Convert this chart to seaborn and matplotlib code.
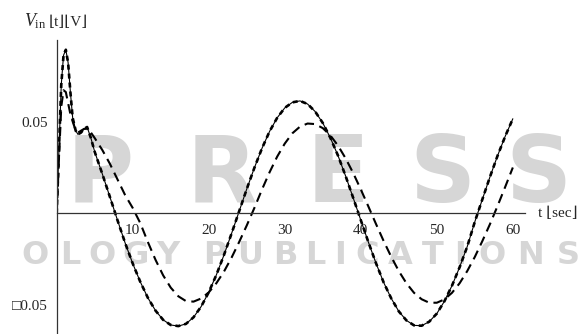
import pandas as pd
import seaborn as sns
import matplotlib.pyplot as plt
from matplotlib.ticker import MultipleLocator

# time grid (sec): dense at the start transient, then one point per second
t = [0, 0.3, 0.6, 0.9, 1.2, 1.5, 1.8, 2.1, 2.5, 2.8, 3.2, 3.6, 4.0, 4.5] + list(range(5, 61))

# solid curve (also drawn again with short dashes on top)
v_sim = [0, 0.035, 0.070, 0.086, 0.089, 0.082, 0.066, 0.052, 0.045, 0.043, 0.044, 0.046, 0.047, 0.041,
         0.0335, 0.0215, 0.0090, -0.0037, -0.0160, -0.0272, -0.0372, -0.0459, -0.0528, -0.0578,
         -0.0606, -0.0612, -0.0600, -0.0564, -0.0506, -0.0428, -0.0334, -0.0226, -0.0109, 0.0012,
         0.0133, 0.0248, 0.0354, 0.0446, 0.0520, 0.0574, 0.0604, 0.0612, 0.0595, 0.0554, 0.0492,
         0.0411, 0.0315, 0.0204, 0.0085, -0.0036, -0.0156, -0.0270, -0.0374, -0.0461, -0.0532,
         -0.0581, -0.0608, -0.0610, -0.0588, -0.0544, -0.0477, -0.0392, -0.0292, -0.0180, -0.0045,
         0.0078, 0.0200, 0.0315, 0.0420, 0.0515]

# long-dashed (lagging) curve
v_delay = [0, 0.030, 0.058, 0.067, 0.066, 0.060, 0.054, 0.050, 0.045, 0.044, 0.045, 0.046, 0.046, 0.044,
           0.041, 0.0345, 0.027, 0.0185, 0.0100, 0.0030, -0.0053, -0.0156, -0.0252, -0.0336,
           -0.0403, -0.0450, -0.0476, -0.0479, -0.0462, -0.0429, -0.0379, -0.0316, -0.0240, -0.0155,
           -0.0065, 0.0030, 0.0130, 0.0224, 0.0309, 0.0380, 0.0436, 0.0472, 0.0489, 0.0486, 0.0464,
           0.0424, 0.0369, 0.0300, 0.0220, 0.0131, 0.0038, -0.0057, -0.0149, -0.0235, -0.0313,
           -0.0379, -0.0431, -0.0466, -0.0485, -0.0485, -0.0467, -0.0431, -0.0379, -0.0313, -0.0236,
           -0.0149, -0.0057, 0.0042, 0.0145, 0.0250]

x_ticks = [10, 20, 30, 40, 50, 60]
x_labels = ["10", "20", "30", "40", "50", "60"]
y_ticks = [-0.05, 0.05]
y_labels = ["\u25a10.05", "0.05"]

sns.set_style("white")
plt.rcParams['font.family'] = ['Liberation Serif', 'DejaVu Serif']
plt.rcParams['mathtext.fontset'] = 'custom'
plt.rcParams['mathtext.rm'] = 'Liberation Serif'
plt.rcParams['mathtext.it'] = 'Liberation Serif:italic'

W, H = 585, 334
fig = plt.figure(figsize=(W / 100, H / 100), dpi=100)

# faint publisher watermark behind the plot
wm = '#d6d6d6'
for ch, xc in zip("PRESS", [100, 222, 338, 442, 538]):
    fig.text(xc / W, 1 - 202 / H, ch, color=wm, fontsize=66, fontweight='bold',
             family='DejaVu Sans', ha='center', va='baseline', zorder=-5)
for ch, xc in zip("OLOGYPUBLICATIONS",
                  [35, 70, 102, 136, 168, 215, 250, 285, 315, 340, 367, 400, 433, 460, 492, 530, 568]):
    fig.text(xc / W, 1 - 264 / H, ch, color=wm, fontsize=23, fontweight='bold',
             family='DejaVu Sans', ha='center', va='baseline', zorder=-5)

ax = fig.add_axes([56.7 / W, 0, (525 - 56.7) / W, 1 - 40 / H])
ax.set_facecolor('none')

df = pd.DataFrame({'t': t, 'sim': v_sim, 'delay': v_delay})
sns.lineplot(data=df, x='t', y='sim', color='black', linewidth=0.8, ax=ax)
sns.lineplot(data=df, x='t', y='sim', color='black', linewidth=1.9, ax=ax)
sns.lineplot(data=df, x='t', y='delay', color='black', linewidth=1.5, ax=ax)
lines = ax.get_lines()
lines[1].set_linestyle((0, (1.9, 1.5)))
lines[2].set_linestyle((0, (4.6, 2.8)))

ax.set_xlim(0, 61.6)
ax.set_ylim(-0.0655, 0.0943)
ax.set_xlabel('')
ax.set_ylabel('')

for side in ['top', 'right']:
    ax.spines[side].set_visible(False)
for side in ['left', 'bottom']:
    ax.spines[side].set_position(('data', 0))
    ax.spines[side].set_color('#333333')
    ax.spines[side].set_linewidth(0.9)

ax.set_xticks(x_ticks)
ax.set_xticklabels(x_labels)
ax.set_yticks(y_ticks)
ax.set_yticklabels(y_labels)
ax.xaxis.set_minor_locator(MultipleLocator(2))
ax.yaxis.set_minor_locator(MultipleLocator(0.01))
ax.tick_params(which='both', direction='in', color='#333333', width=0.8, labelsize=11)
ax.tick_params(which='major', length=4)
ax.tick_params(which='minor', length=2.5)
ax.tick_params(axis='x', pad=7.5)
ax.tick_params(axis='y', pad=6.5)

fig.text(24 / W, 1 - 26 / H, r'$V_{\mathrm{in}}$', fontsize=13, va='baseline')
fig.text(49 / W, 1 - 26 / H, '\u230at\u230b\u230aV\u230b', fontsize=11, va='baseline')
fig.text(538 / W, 1 - 213.5 / H, 't \u230asec\u230b', fontsize=11, va='center')

fig.savefig('out.png', dpi=100)
